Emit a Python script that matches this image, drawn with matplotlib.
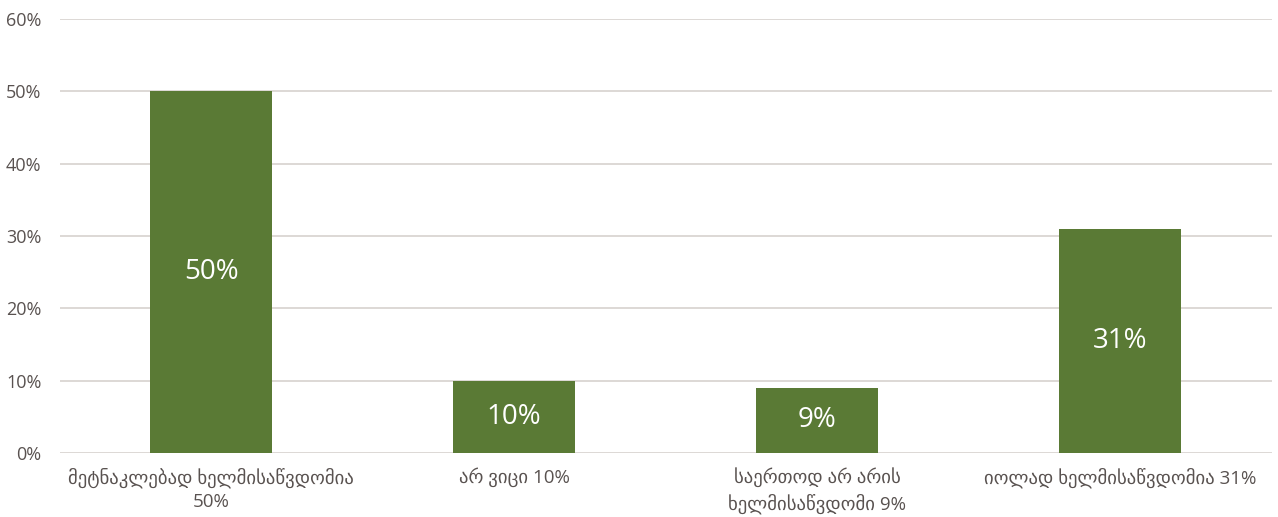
import matplotlib
matplotlib.use("Agg")
import matplotlib.pyplot as plt

categories = [
    "მეტნაკლებად ხელმისაწვდომია\n50%",
    "არ ვიცი 10%",
    "საერთოდ არ არის\nხელმისაწვდომი 9%",
    "იოლად ხელმისაწვდომია 31%",
]
values = [50, 10, 9, 31]
yticks = [0, 10, 20, 30, 40, 50, 60]

bar_color = "#5A7A35"
text_color = "#595250"
grid_color = "#DAD6D2"
fonts = ["Open Sans", "DejaVu Sans"]

plt.rcParams["font.family"] = fonts

fig = plt.figure(figsize=(12.78, 5.17), dpi=100)
ax = fig.add_axes([59.5 / 1278, 64 / 517, 1212 / 1278, 434 / 517])

x = list(range(len(categories)))
bars = ax.bar(x, values, width=0.4, color=bar_color, zorder=3)

for xi, v in zip(x, values):
    ax.text(xi, v / 2, f"{v}%", ha="center", va="center",
            color="white", fontsize=20, zorder=4)

ax.set_xlim(-0.5, len(categories) - 0.5)
ax.set_ylim(0, 60)
ax.set_yticks(yticks)
ax.set_yticklabels([f"{t}%" for t in yticks])
ax.set_xticks(x)
ax.set_xticklabels(categories, fontsize=13.5, color=text_color, linespacing=1.38)

ax.grid(axis="y", color=grid_color, linewidth=1.3, zorder=0)
ax.tick_params(axis="y", length=0, labelsize=13, labelcolor=text_color, pad=13)
ax.tick_params(axis="x", length=0, pad=10.5)
for spine in ax.spines.values():
    spine.set_visible(False)

fig.savefig("out.png", dpi=100, facecolor="white")
